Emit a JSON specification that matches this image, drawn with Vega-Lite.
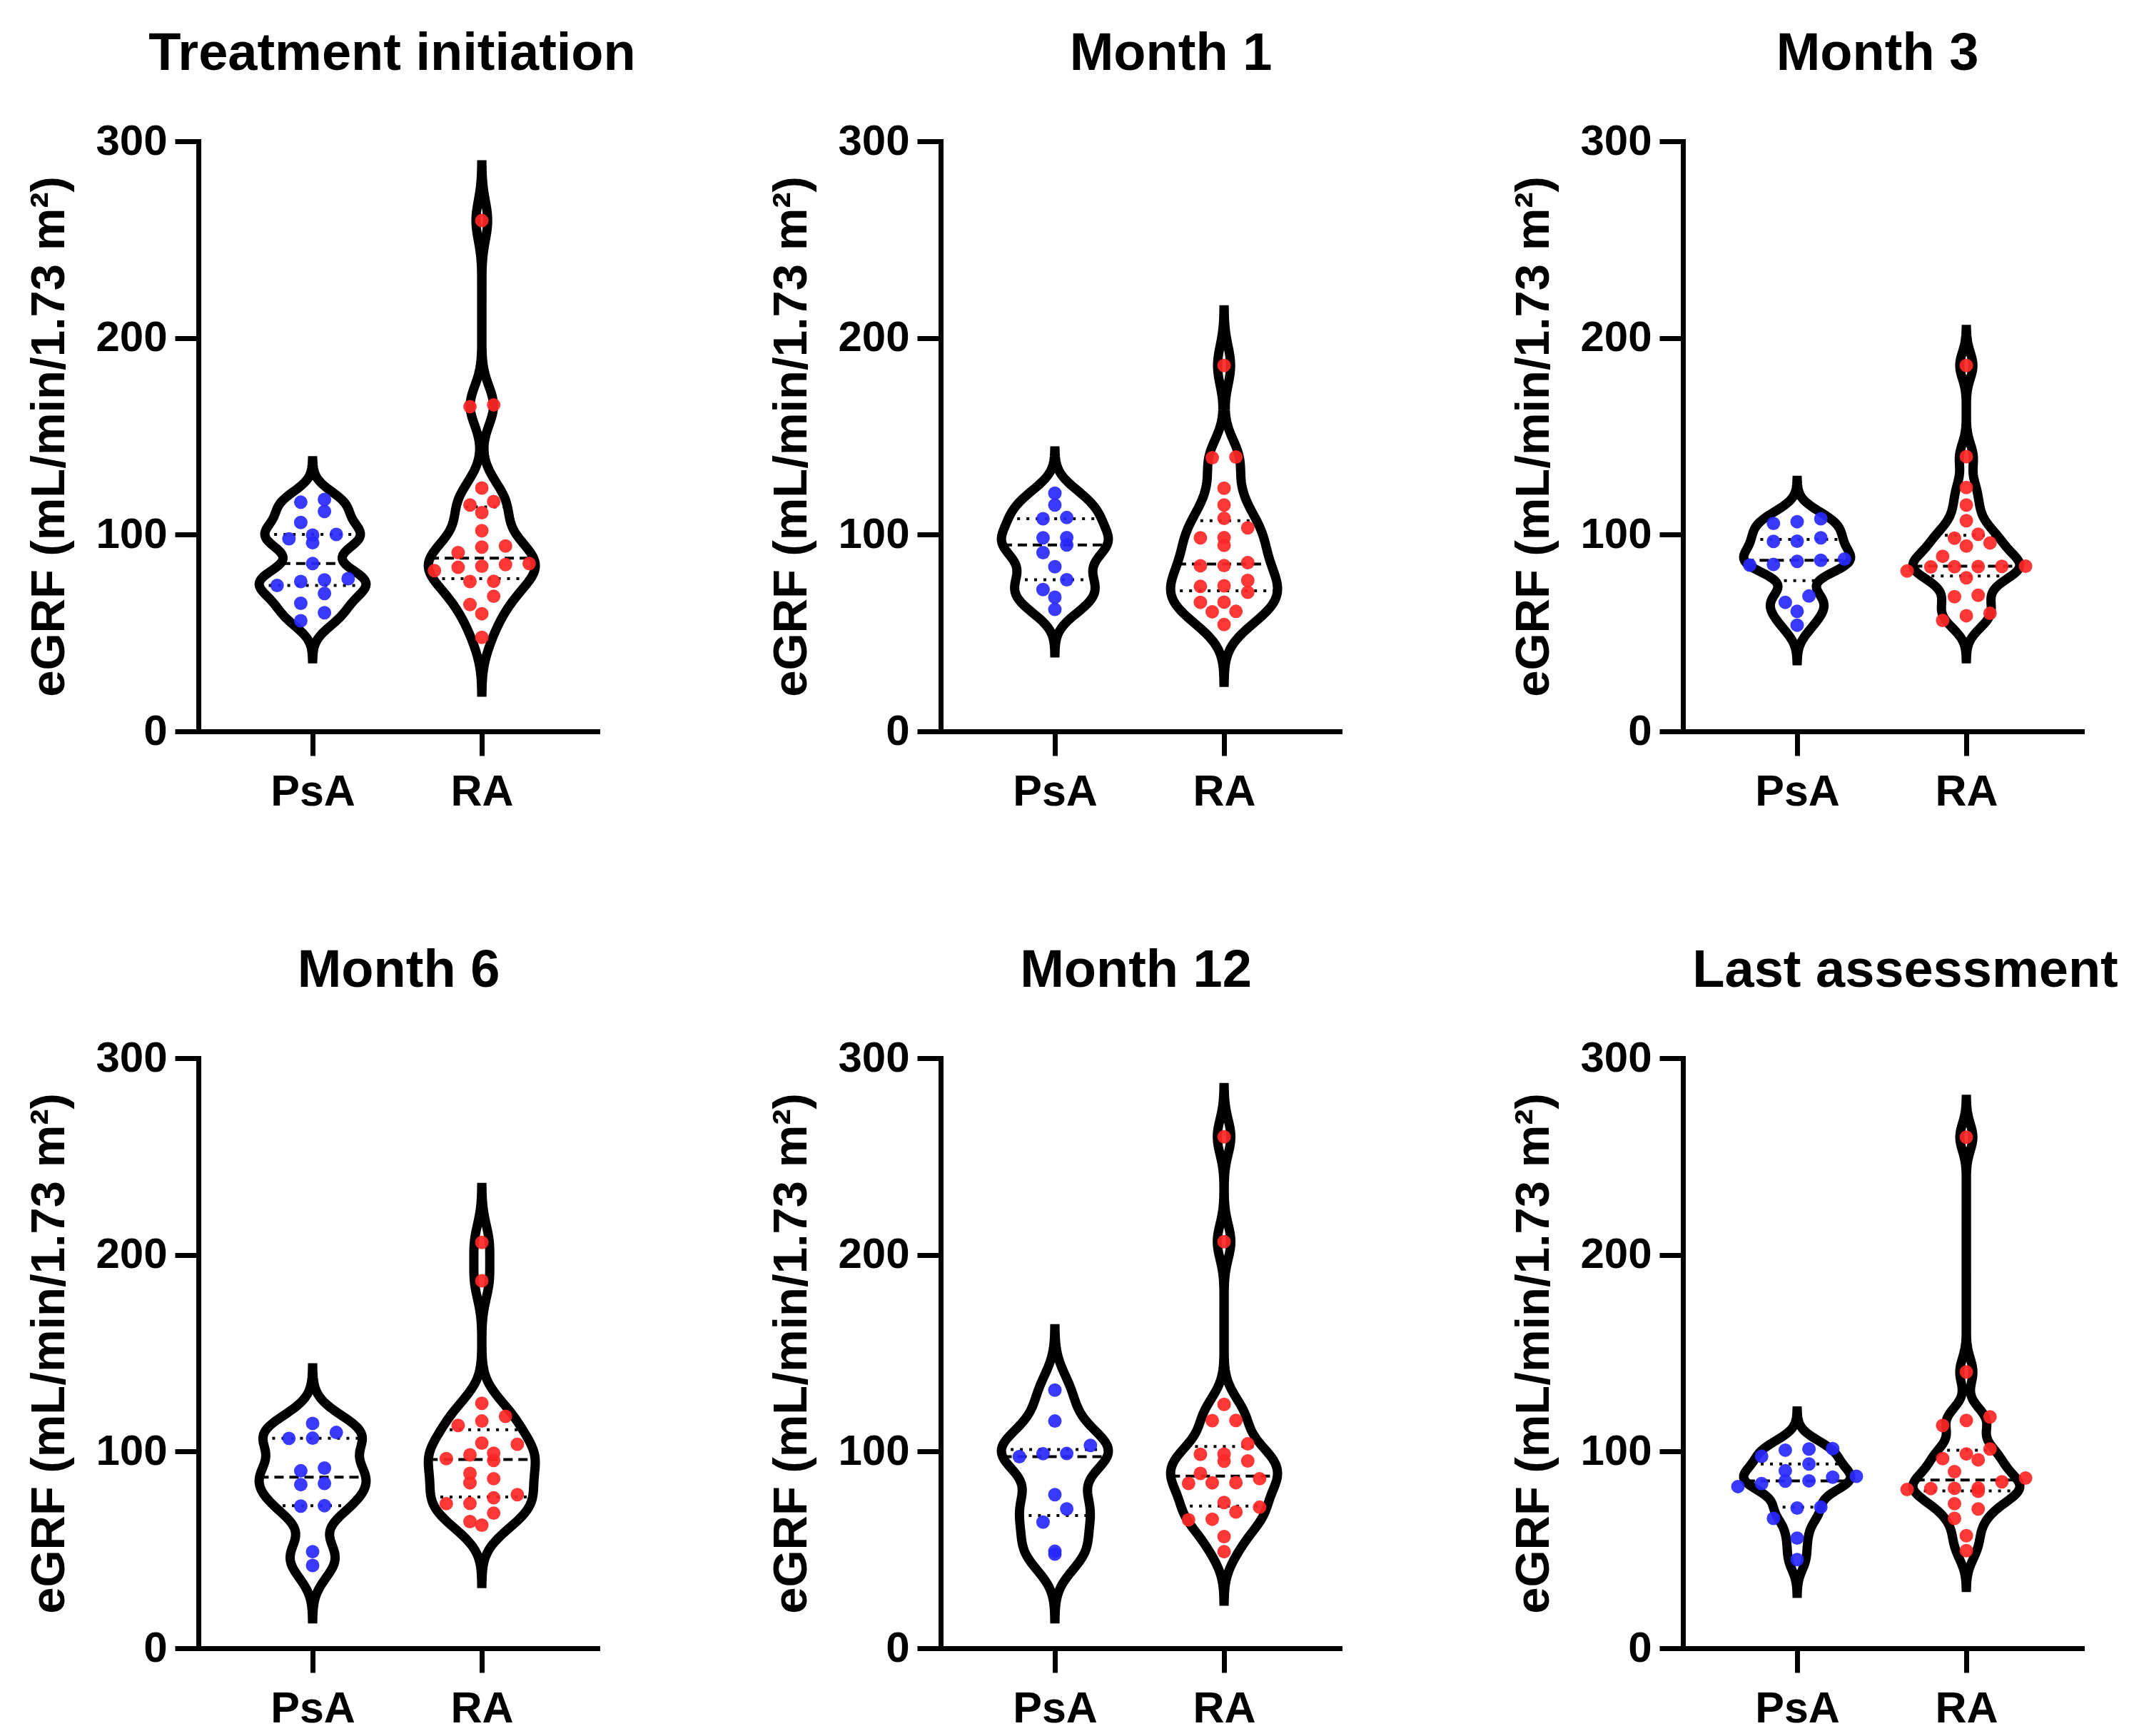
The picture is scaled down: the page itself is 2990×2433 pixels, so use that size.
{
"$schema": "https://vega.github.io/schema/vega-lite/v6.json",
"padding": {"left": 35, "top": 39, "right": 20, "bottom": 10},
"datasets": {"pts": [
{"panel":"Treatment initiation","group":"PsA","eGFR":116.5},{"panel":"Treatment initiation","group":"PsA","eGFR":117.9},{"panel":"Treatment initiation","group":"PsA","eGFR":111.8},{"panel":"Treatment initiation","group":"PsA","eGFR":106.2},{"panel":"Treatment initiation","group":"PsA","eGFR":99.8},{"panel":"Treatment initiation","group":"PsA","eGFR":100.1},{"panel":"Treatment initiation","group":"PsA","eGFR":97.9},{"panel":"Treatment initiation","group":"PsA","eGFR":95.9},{"panel":"Treatment initiation","group":"PsA","eGFR":85.3},{"panel":"Treatment initiation","group":"PsA","eGFR":77.0},{"panel":"Treatment initiation","group":"PsA","eGFR":76.2},{"panel":"Treatment initiation","group":"PsA","eGFR":77.6},{"panel":"Treatment initiation","group":"PsA","eGFR":74.2},{"panel":"Treatment initiation","group":"PsA","eGFR":70.1},{"panel":"Treatment initiation","group":"PsA","eGFR":65.1},{"panel":"Treatment initiation","group":"PsA","eGFR":60.3},{"panel":"Treatment initiation","group":"PsA","eGFR":56.2},
{"panel":"Treatment initiation","group":"RA","eGFR":259.7},{"panel":"Treatment initiation","group":"RA","eGFR":165.1},{"panel":"Treatment initiation","group":"RA","eGFR":166.0},{"panel":"Treatment initiation","group":"RA","eGFR":123.7},{"panel":"Treatment initiation","group":"RA","eGFR":115.1},{"panel":"Treatment initiation","group":"RA","eGFR":116.8},{"panel":"Treatment initiation","group":"RA","eGFR":111.2},{"panel":"Treatment initiation","group":"RA","eGFR":102.0},{"panel":"Treatment initiation","group":"RA","eGFR":94.2},{"panel":"Treatment initiation","group":"RA","eGFR":93.7},{"panel":"Treatment initiation","group":"RA","eGFR":90.9},{"panel":"Treatment initiation","group":"RA","eGFR":85.3},{"panel":"Treatment initiation","group":"RA","eGFR":83.4},{"panel":"Treatment initiation","group":"RA","eGFR":84.0},{"panel":"Treatment initiation","group":"RA","eGFR":84.8},{"panel":"Treatment initiation","group":"RA","eGFR":81.7},{"panel":"Treatment initiation","group":"RA","eGFR":76.2},{"panel":"Treatment initiation","group":"RA","eGFR":76.3},{"panel":"Treatment initiation","group":"RA","eGFR":68.7},{"panel":"Treatment initiation","group":"RA","eGFR":64.5},{"panel":"Treatment initiation","group":"RA","eGFR":59.8},{"panel":"Treatment initiation","group":"RA","eGFR":47.8},
{"panel":"Month 1","group":"PsA","eGFR":121.1},{"panel":"Month 1","group":"PsA","eGFR":115.1},{"panel":"Month 1","group":"PsA","eGFR":108.7},{"panel":"Month 1","group":"PsA","eGFR":108.1},{"panel":"Month 1","group":"PsA","eGFR":98.4},{"panel":"Month 1","group":"PsA","eGFR":98.5},{"panel":"Month 1","group":"PsA","eGFR":94.8},{"panel":"Month 1","group":"PsA","eGFR":90.9},{"panel":"Month 1","group":"PsA","eGFR":83.7},{"panel":"Month 1","group":"PsA","eGFR":77.1},{"panel":"Month 1","group":"PsA","eGFR":72.1},{"panel":"Month 1","group":"PsA","eGFR":68.2},{"panel":"Month 1","group":"PsA","eGFR":62.0},
{"panel":"Month 1","group":"RA","eGFR":186.0},{"panel":"Month 1","group":"RA","eGFR":139.1},{"panel":"Month 1","group":"RA","eGFR":139.5},{"panel":"Month 1","group":"RA","eGFR":123.6},{"panel":"Month 1","group":"RA","eGFR":115.1},{"panel":"Month 1","group":"RA","eGFR":108.3},{"panel":"Month 1","group":"RA","eGFR":103.5},{"panel":"Month 1","group":"RA","eGFR":98.4},{"panel":"Month 1","group":"RA","eGFR":98.5},{"panel":"Month 1","group":"RA","eGFR":94.6},{"panel":"Month 1","group":"RA","eGFR":85.8},{"panel":"Month 1","group":"RA","eGFR":84.2},{"panel":"Month 1","group":"RA","eGFR":84.3},{"panel":"Month 1","group":"RA","eGFR":76.7},{"panel":"Month 1","group":"RA","eGFR":74.0},{"panel":"Month 1","group":"RA","eGFR":73.7},{"panel":"Month 1","group":"RA","eGFR":70.7},{"panel":"Month 1","group":"RA","eGFR":65.6},{"panel":"Month 1","group":"RA","eGFR":65.7},{"panel":"Month 1","group":"RA","eGFR":61.0},{"panel":"Month 1","group":"RA","eGFR":60.8},{"panel":"Month 1","group":"RA","eGFR":54.3},
{"panel":"Month 3","group":"PsA","eGFR":108.1},{"panel":"Month 3","group":"PsA","eGFR":105.7},{"panel":"Month 3","group":"PsA","eGFR":106.6},{"panel":"Month 3","group":"PsA","eGFR":96.6},{"panel":"Month 3","group":"PsA","eGFR":96.7},{"panel":"Month 3","group":"PsA","eGFR":98.4},{"panel":"Month 3","group":"PsA","eGFR":86.4},{"panel":"Month 3","group":"PsA","eGFR":84.5},{"panel":"Month 3","group":"PsA","eGFR":87.0},{"panel":"Month 3","group":"PsA","eGFR":87.6},{"panel":"Month 3","group":"PsA","eGFR":84.9},{"panel":"Month 3","group":"PsA","eGFR":68.8},{"panel":"Month 3","group":"PsA","eGFR":65.6},{"panel":"Month 3","group":"PsA","eGFR":61.0},{"panel":"Month 3","group":"PsA","eGFR":54.0},
{"panel":"Month 3","group":"RA","eGFR":186.0},{"panel":"Month 3","group":"RA","eGFR":139.7},{"panel":"Month 3","group":"RA","eGFR":124.0},{"panel":"Month 3","group":"RA","eGFR":115.1},{"panel":"Month 3","group":"RA","eGFR":107.1},{"panel":"Month 3","group":"RA","eGFR":100.2},{"panel":"Month 3","group":"RA","eGFR":98.2},{"panel":"Month 3","group":"RA","eGFR":95.8},{"panel":"Month 3","group":"RA","eGFR":94.2},{"panel":"Month 3","group":"RA","eGFR":89.0},{"panel":"Month 3","group":"RA","eGFR":83.7},{"panel":"Month 3","group":"RA","eGFR":81.5},{"panel":"Month 3","group":"RA","eGFR":83.9},{"panel":"Month 3","group":"RA","eGFR":84.0},{"panel":"Month 3","group":"RA","eGFR":83.8},{"panel":"Month 3","group":"RA","eGFR":83.6},{"panel":"Month 3","group":"RA","eGFR":78.1},{"panel":"Month 3","group":"RA","eGFR":69.2},{"panel":"Month 3","group":"RA","eGFR":68.5},{"panel":"Month 3","group":"RA","eGFR":60.0},{"panel":"Month 3","group":"RA","eGFR":56.4},{"panel":"Month 3","group":"RA","eGFR":58.8},
{"panel":"Month 6","group":"PsA","eGFR":114.3},{"panel":"Month 6","group":"PsA","eGFR":109.7},{"panel":"Month 6","group":"PsA","eGFR":106.7},{"panel":"Month 6","group":"PsA","eGFR":106.8},{"panel":"Month 6","group":"PsA","eGFR":91.6},{"panel":"Month 6","group":"PsA","eGFR":90.2},{"panel":"Month 6","group":"PsA","eGFR":83.2},{"panel":"Month 6","group":"PsA","eGFR":83.8},{"panel":"Month 6","group":"PsA","eGFR":72.3},{"panel":"Month 6","group":"PsA","eGFR":72.5},{"panel":"Month 6","group":"PsA","eGFR":49.1},{"panel":"Month 6","group":"PsA","eGFR":42.1},
{"panel":"Month 6","group":"RA","eGFR":206.3},{"panel":"Month 6","group":"RA","eGFR":186.8},{"panel":"Month 6","group":"RA","eGFR":124.5},{"panel":"Month 6","group":"RA","eGFR":117.9},{"panel":"Month 6","group":"RA","eGFR":113.3},{"panel":"Month 6","group":"RA","eGFR":115.5},{"panel":"Month 6","group":"RA","eGFR":104.3},{"panel":"Month 6","group":"RA","eGFR":103.7},{"panel":"Month 6","group":"RA","eGFR":98.3},{"panel":"Month 6","group":"RA","eGFR":99.1},{"panel":"Month 6","group":"RA","eGFR":95.5},{"panel":"Month 6","group":"RA","eGFR":96.4},{"panel":"Month 6","group":"RA","eGFR":88.9},{"panel":"Month 6","group":"RA","eGFR":86.2},{"panel":"Month 6","group":"RA","eGFR":84.1},{"panel":"Month 6","group":"RA","eGFR":76.5},{"panel":"Month 6","group":"RA","eGFR":78.1},{"panel":"Month 6","group":"RA","eGFR":73.5},{"panel":"Month 6","group":"RA","eGFR":73.6},{"panel":"Month 6","group":"RA","eGFR":68.7},{"panel":"Month 6","group":"RA","eGFR":62.6},{"panel":"Month 6","group":"RA","eGFR":64.4},
{"panel":"Month 12","group":"PsA","eGFR":131.2},{"panel":"Month 12","group":"PsA","eGFR":115.5},{"panel":"Month 12","group":"PsA","eGFR":103.1},{"panel":"Month 12","group":"PsA","eGFR":98.9},{"panel":"Month 12","group":"PsA","eGFR":99.0},{"panel":"Month 12","group":"PsA","eGFR":97.4},{"panel":"Month 12","group":"PsA","eGFR":78.1},{"panel":"Month 12","group":"PsA","eGFR":70.8},{"panel":"Month 12","group":"PsA","eGFR":64.1},{"panel":"Month 12","group":"PsA","eGFR":47.9},{"panel":"Month 12","group":"PsA","eGFR":49.3},
{"panel":"Month 12","group":"RA","eGFR":260.0},{"panel":"Month 12","group":"RA","eGFR":206.7},{"panel":"Month 12","group":"RA","eGFR":124.0},{"panel":"Month 12","group":"RA","eGFR":115.8},{"panel":"Month 12","group":"RA","eGFR":115.7},{"panel":"Month 12","group":"RA","eGFR":103.9},{"panel":"Month 12","group":"RA","eGFR":98.6},{"panel":"Month 12","group":"RA","eGFR":98.7},{"panel":"Month 12","group":"RA","eGFR":95.2},{"panel":"Month 12","group":"RA","eGFR":95.1},{"panel":"Month 12","group":"RA","eGFR":86.2},{"panel":"Month 12","group":"RA","eGFR":88.9},{"panel":"Month 12","group":"RA","eGFR":83.8},{"panel":"Month 12","group":"RA","eGFR":84.1},{"panel":"Month 12","group":"RA","eGFR":84.2},{"panel":"Month 12","group":"RA","eGFR":74.1},{"panel":"Month 12","group":"RA","eGFR":71.7},{"panel":"Month 12","group":"RA","eGFR":69.3},{"panel":"Month 12","group":"RA","eGFR":65.6},{"panel":"Month 12","group":"RA","eGFR":65.3},{"panel":"Month 12","group":"RA","eGFR":56.8},{"panel":"Month 12","group":"RA","eGFR":49.1},
{"panel":"Last assessment","group":"PsA","eGFR":101.3},{"panel":"Last assessment","group":"PsA","eGFR":100.7},{"panel":"Last assessment","group":"PsA","eGFR":101.5},{"panel":"Last assessment","group":"PsA","eGFR":97.6},{"panel":"Last assessment","group":"PsA","eGFR":93.7},{"panel":"Last assessment","group":"PsA","eGFR":90.2},{"panel":"Last assessment","group":"PsA","eGFR":87.4},{"panel":"Last assessment","group":"PsA","eGFR":87.0},{"panel":"Last assessment","group":"PsA","eGFR":85.0},{"panel":"Last assessment","group":"PsA","eGFR":83.7},{"panel":"Last assessment","group":"PsA","eGFR":85.1},{"panel":"Last assessment","group":"PsA","eGFR":82.2},{"panel":"Last assessment","group":"PsA","eGFR":71.3},{"panel":"Last assessment","group":"PsA","eGFR":71.7},{"panel":"Last assessment","group":"PsA","eGFR":66.0},{"panel":"Last assessment","group":"PsA","eGFR":56.0},{"panel":"Last assessment","group":"PsA","eGFR":45.1},
{"panel":"Last assessment","group":"RA","eGFR":259.8},{"panel":"Last assessment","group":"RA","eGFR":140.5},{"panel":"Last assessment","group":"RA","eGFR":117.6},{"panel":"Last assessment","group":"RA","eGFR":115.8},{"panel":"Last assessment","group":"RA","eGFR":113.3},{"panel":"Last assessment","group":"RA","eGFR":98.8},{"panel":"Last assessment","group":"RA","eGFR":101.3},{"panel":"Last assessment","group":"RA","eGFR":96.4},{"panel":"Last assessment","group":"RA","eGFR":95.8},{"panel":"Last assessment","group":"RA","eGFR":89.8},{"panel":"Last assessment","group":"RA","eGFR":84.6},{"panel":"Last assessment","group":"RA","eGFR":86.5},{"panel":"Last assessment","group":"RA","eGFR":80.7},{"panel":"Last assessment","group":"RA","eGFR":81.3},{"panel":"Last assessment","group":"RA","eGFR":81.4},{"panel":"Last assessment","group":"RA","eGFR":81.2},{"panel":"Last assessment","group":"RA","eGFR":79.8},{"panel":"Last assessment","group":"RA","eGFR":73.5},{"panel":"Last assessment","group":"RA","eGFR":70.8},{"panel":"Last assessment","group":"RA","eGFR":66.0},{"panel":"Last assessment","group":"RA","eGFR":57.2},{"panel":"Last assessment","group":"RA","eGFR":49.6}
]},
"data": {"name": "pts"},
"columns": 3,
"spacing": {"row": 458, "column": 481},
"bounds": "flush",
"concat": [
{"title": {"text": "Treatment initiation", "dx": -8}, "width": 559, "height": 827, "layer": [
 {"transform": [{"filter": "datum.panel === 'Treatment initiation' && datum.group === 'PsA'"},{"joinaggregate": [{"op":"q1","field":"eGFR","as":"q1"},{"op":"median","field":"eGFR","as":"med"},{"op":"q3","field":"eGFR","as":"q3"}]},{"density":"eGFR","groupby":["q1","med","q3"],"bandwidth":6.5,"extent":[0,300],"steps":301},{"joinaggregate":[{"op":"max","field":"density","as":"dmax"}]},{"calculate":"0.316 * datum.density / datum.dmax","as":"half"},{"filter":"datum.half > 0.0006"},{"calculate":"1 - datum.half","as":"left"},{"calculate":"1 + datum.half","as":"right"}],
  "layer": [
   {"mark": {"type":"area","orient":"horizontal","fill":"white","stroke":"black","strokeWidth":13,"strokeJoin":"miter","strokeMiterLimit":4},"encoding":{"y":{"field":"value","type":"quantitative","scale":{"domain":[0,300],"nice":false},"axis":{"values":[0,100,200,300],"title":"eGRF (mL/min/1.73 m²)"}},"x":{"field":"left","type":"quantitative","scale":{"domain":[0.325,2.683],"nice":false,"zero":false},"axis":{"values":[1,2],"labelExpr":"datum.value === 1 ? 'PsA' : 'RA'","title":null}},"x2":{"field":"right"}}},
   {"transform":[{"filter":"abs(datum.value - datum.med) <= 0.5"}],"mark":{"type":"rule","stroke":"black","strokeWidth":4,"strokeDash":[13,8]},"encoding":{"y":{"field":"med","type":"quantitative"},"x":{"field":"left","type":"quantitative"},"x2":{"field":"right"}}},
   {"transform":[{"filter":"abs(datum.value - datum.q1) <= 0.5"}],"mark":{"type":"rule","stroke":"black","strokeWidth":4,"strokeDash":[4,9]},"encoding":{"y":{"field":"q1","type":"quantitative"},"x":{"field":"left","type":"quantitative"},"x2":{"field":"right"}}},
   {"transform":[{"filter":"abs(datum.value - datum.q3) <= 0.5"}],"mark":{"type":"rule","stroke":"black","strokeWidth":4,"strokeDash":[4,9]},"encoding":{"y":{"field":"q3","type":"quantitative"},"x":{"field":"left","type":"quantitative"},"x2":{"field":"right"}}}
  ]},
 {"transform": [{"filter": "datum.panel === 'Treatment initiation' && datum.group === 'RA'"},{"joinaggregate": [{"op":"q1","field":"eGFR","as":"q1"},{"op":"median","field":"eGFR","as":"med"},{"op":"q3","field":"eGFR","as":"q3"}]},{"density":"eGFR","groupby":["q1","med","q3"],"bandwidth":10,"extent":[0,300],"steps":301},{"joinaggregate":[{"op":"max","field":"density","as":"dmax"}]},{"calculate":"0.316 * datum.density / datum.dmax","as":"half"},{"filter":"datum.half > 0.0006"},{"calculate":"2 - datum.half","as":"left"},{"calculate":"2 + datum.half","as":"right"}],
  "layer": [
   {"mark": {"type":"area","orient":"horizontal","fill":"white","stroke":"black","strokeWidth":13,"strokeJoin":"miter","strokeMiterLimit":4},"encoding":{"y":{"field":"value","type":"quantitative"},"x":{"field":"left","type":"quantitative"},"x2":{"field":"right"}}},
   {"transform":[{"filter":"abs(datum.value - datum.med) <= 0.5"}],"mark":{"type":"rule","stroke":"black","strokeWidth":4,"strokeDash":[13,8]},"encoding":{"y":{"field":"med","type":"quantitative"},"x":{"field":"left","type":"quantitative"},"x2":{"field":"right"}}},
   {"transform":[{"filter":"abs(datum.value - datum.q1) <= 0.5"}],"mark":{"type":"rule","stroke":"black","strokeWidth":4,"strokeDash":[4,9]},"encoding":{"y":{"field":"q1","type":"quantitative"},"x":{"field":"left","type":"quantitative"},"x2":{"field":"right"}}},
   {"transform":[{"filter":"abs(datum.value - datum.q3) <= 0.5"}],"mark":{"type":"rule","stroke":"black","strokeWidth":4,"strokeDash":[4,9]},"encoding":{"y":{"field":"q3","type":"quantitative"},"x":{"field":"left","type":"quantitative"},"x2":{"field":"right"}}}
  ]},
 {"transform": [{"filter":"datum.panel === 'Treatment initiation'"},{"bin":{"step":8},"field":"eGFR","as":"vb"},{"window":[{"op":"row_number","as":"rn"}],"groupby":["group","vb"],"sort":[{"field":"eGFR","order":"ascending"}]},{"joinaggregate":[{"op":"count","as":"cnt"}],"groupby":["group","vb"]},{"calculate":"(datum.group === 'PsA' ? 1 : 2) + (datum.rn - (datum.cnt + 1) / 2) * 0.14","as":"xpos"}],
  "mark": {"type":"circle","size":360,"opacity":0.92},
  "encoding": {"x":{"field":"xpos","type":"quantitative"},"y":{"field":"eGFR","type":"quantitative"},"color":{"field":"group","type":"nominal","scale":{"domain":["PsA","RA"],"range":["#2828ff","#ff2626"]},"legend":null}}}
]},
{"title": {"text": "Month 1", "dx": 43}, "width": 559, "height": 827, "layer": [
 {"transform": [{"filter": "datum.panel === 'Month 1' && datum.group === 'PsA'"},{"joinaggregate": [{"op":"q1","field":"eGFR","as":"q1"},{"op":"median","field":"eGFR","as":"med"},{"op":"q3","field":"eGFR","as":"q3"}]},{"density":"eGFR","groupby":["q1","med","q3"],"bandwidth":7.2,"extent":[0,300],"steps":301},{"joinaggregate":[{"op":"max","field":"density","as":"dmax"}]},{"calculate":"0.316 * datum.density / datum.dmax","as":"half"},{"filter":"datum.half > 0.0006"},{"calculate":"1 - datum.half","as":"left"},{"calculate":"1 + datum.half","as":"right"}],
  "layer": [
   {"mark": {"type":"area","orient":"horizontal","fill":"white","stroke":"black","strokeWidth":13,"strokeJoin":"miter","strokeMiterLimit":4},"encoding":{"y":{"field":"value","type":"quantitative","scale":{"domain":[0,300],"nice":false},"axis":{"values":[0,100,200,300],"title":"eGRF (mL/min/1.73 m²)"}},"x":{"field":"left","type":"quantitative","scale":{"domain":[0.325,2.683],"nice":false,"zero":false},"axis":{"values":[1,2],"labelExpr":"datum.value === 1 ? 'PsA' : 'RA'","title":null}},"x2":{"field":"right"}}},
   {"transform":[{"filter":"abs(datum.value - datum.med) <= 0.5"}],"mark":{"type":"rule","stroke":"black","strokeWidth":4,"strokeDash":[13,8]},"encoding":{"y":{"field":"med","type":"quantitative"},"x":{"field":"left","type":"quantitative"},"x2":{"field":"right"}}},
   {"transform":[{"filter":"abs(datum.value - datum.q1) <= 0.5"}],"mark":{"type":"rule","stroke":"black","strokeWidth":4,"strokeDash":[4,9]},"encoding":{"y":{"field":"q1","type":"quantitative"},"x":{"field":"left","type":"quantitative"},"x2":{"field":"right"}}},
   {"transform":[{"filter":"abs(datum.value - datum.q3) <= 0.5"}],"mark":{"type":"rule","stroke":"black","strokeWidth":4,"strokeDash":[4,9]},"encoding":{"y":{"field":"q3","type":"quantitative"},"x":{"field":"left","type":"quantitative"},"x2":{"field":"right"}}}
  ]},
 {"transform": [{"filter": "datum.panel === 'Month 1' && datum.group === 'RA'"},{"joinaggregate": [{"op":"q1","field":"eGFR","as":"q1"},{"op":"median","field":"eGFR","as":"med"},{"op":"q3","field":"eGFR","as":"q3"}]},{"density":"eGFR","groupby":["q1","med","q3"],"bandwidth":10,"extent":[0,300],"steps":301},{"joinaggregate":[{"op":"max","field":"density","as":"dmax"}]},{"calculate":"0.316 * datum.density / datum.dmax","as":"half"},{"filter":"datum.half > 0.0006"},{"calculate":"2 - datum.half","as":"left"},{"calculate":"2 + datum.half","as":"right"}],
  "layer": [
   {"mark": {"type":"area","orient":"horizontal","fill":"white","stroke":"black","strokeWidth":13,"strokeJoin":"miter","strokeMiterLimit":4},"encoding":{"y":{"field":"value","type":"quantitative"},"x":{"field":"left","type":"quantitative"},"x2":{"field":"right"}}},
   {"transform":[{"filter":"abs(datum.value - datum.med) <= 0.5"}],"mark":{"type":"rule","stroke":"black","strokeWidth":4,"strokeDash":[13,8]},"encoding":{"y":{"field":"med","type":"quantitative"},"x":{"field":"left","type":"quantitative"},"x2":{"field":"right"}}},
   {"transform":[{"filter":"abs(datum.value - datum.q1) <= 0.5"}],"mark":{"type":"rule","stroke":"black","strokeWidth":4,"strokeDash":[4,9]},"encoding":{"y":{"field":"q1","type":"quantitative"},"x":{"field":"left","type":"quantitative"},"x2":{"field":"right"}}},
   {"transform":[{"filter":"abs(datum.value - datum.q3) <= 0.5"}],"mark":{"type":"rule","stroke":"black","strokeWidth":4,"strokeDash":[4,9]},"encoding":{"y":{"field":"q3","type":"quantitative"},"x":{"field":"left","type":"quantitative"},"x2":{"field":"right"}}}
  ]},
 {"transform": [{"filter":"datum.panel === 'Month 1'"},{"bin":{"step":8},"field":"eGFR","as":"vb"},{"window":[{"op":"row_number","as":"rn"}],"groupby":["group","vb"],"sort":[{"field":"eGFR","order":"ascending"}]},{"joinaggregate":[{"op":"count","as":"cnt"}],"groupby":["group","vb"]},{"calculate":"(datum.group === 'PsA' ? 1 : 2) + (datum.rn - (datum.cnt + 1) / 2) * 0.14","as":"xpos"}],
  "mark": {"type":"circle","size":360,"opacity":0.92},
  "encoding": {"x":{"field":"xpos","type":"quantitative"},"y":{"field":"eGFR","type":"quantitative"},"color":{"field":"group","type":"nominal","scale":{"domain":["PsA","RA"],"range":["#2828ff","#ff2626"]},"legend":null}}}
]},
{"title": {"text": "Month 3", "dx": -7}, "width": 559, "height": 827, "layer": [
 {"transform": [{"filter": "datum.panel === 'Month 3' && datum.group === 'PsA'"},{"joinaggregate": [{"op":"q1","field":"eGFR","as":"q1"},{"op":"median","field":"eGFR","as":"med"},{"op":"q3","field":"eGFR","as":"q3"}]},{"density":"eGFR","groupby":["q1","med","q3"],"bandwidth":6.3,"extent":[0,300],"steps":301},{"joinaggregate":[{"op":"max","field":"density","as":"dmax"}]},{"calculate":"0.316 * datum.density / datum.dmax","as":"half"},{"filter":"datum.half > 0.0006"},{"calculate":"1 - datum.half","as":"left"},{"calculate":"1 + datum.half","as":"right"}],
  "layer": [
   {"mark": {"type":"area","orient":"horizontal","fill":"white","stroke":"black","strokeWidth":13,"strokeJoin":"miter","strokeMiterLimit":4},"encoding":{"y":{"field":"value","type":"quantitative","scale":{"domain":[0,300],"nice":false},"axis":{"values":[0,100,200,300],"title":"eGRF (mL/min/1.73 m²)"}},"x":{"field":"left","type":"quantitative","scale":{"domain":[0.325,2.683],"nice":false,"zero":false},"axis":{"values":[1,2],"labelExpr":"datum.value === 1 ? 'PsA' : 'RA'","title":null}},"x2":{"field":"right"}}},
   {"transform":[{"filter":"abs(datum.value - datum.med) <= 0.5"}],"mark":{"type":"rule","stroke":"black","strokeWidth":4,"strokeDash":[13,8]},"encoding":{"y":{"field":"med","type":"quantitative"},"x":{"field":"left","type":"quantitative"},"x2":{"field":"right"}}},
   {"transform":[{"filter":"abs(datum.value - datum.q1) <= 0.5"}],"mark":{"type":"rule","stroke":"black","strokeWidth":4,"strokeDash":[4,9]},"encoding":{"y":{"field":"q1","type":"quantitative"},"x":{"field":"left","type":"quantitative"},"x2":{"field":"right"}}},
   {"transform":[{"filter":"abs(datum.value - datum.q3) <= 0.5"}],"mark":{"type":"rule","stroke":"black","strokeWidth":4,"strokeDash":[4,9]},"encoding":{"y":{"field":"q3","type":"quantitative"},"x":{"field":"left","type":"quantitative"},"x2":{"field":"right"}}}
  ]},
 {"transform": [{"filter": "datum.panel === 'Month 3' && datum.group === 'RA'"},{"joinaggregate": [{"op":"q1","field":"eGFR","as":"q1"},{"op":"median","field":"eGFR","as":"med"},{"op":"q3","field":"eGFR","as":"q3"}]},{"density":"eGFR","groupby":["q1","med","q3"],"bandwidth":6.6,"extent":[0,300],"steps":301},{"joinaggregate":[{"op":"max","field":"density","as":"dmax"}]},{"calculate":"0.316 * datum.density / datum.dmax","as":"half"},{"filter":"datum.half > 0.0006"},{"calculate":"2 - datum.half","as":"left"},{"calculate":"2 + datum.half","as":"right"}],
  "layer": [
   {"mark": {"type":"area","orient":"horizontal","fill":"white","stroke":"black","strokeWidth":13,"strokeJoin":"miter","strokeMiterLimit":4},"encoding":{"y":{"field":"value","type":"quantitative"},"x":{"field":"left","type":"quantitative"},"x2":{"field":"right"}}},
   {"transform":[{"filter":"abs(datum.value - datum.med) <= 0.5"}],"mark":{"type":"rule","stroke":"black","strokeWidth":4,"strokeDash":[13,8]},"encoding":{"y":{"field":"med","type":"quantitative"},"x":{"field":"left","type":"quantitative"},"x2":{"field":"right"}}},
   {"transform":[{"filter":"abs(datum.value - datum.q1) <= 0.5"}],"mark":{"type":"rule","stroke":"black","strokeWidth":4,"strokeDash":[4,9]},"encoding":{"y":{"field":"q1","type":"quantitative"},"x":{"field":"left","type":"quantitative"},"x2":{"field":"right"}}},
   {"transform":[{"filter":"abs(datum.value - datum.q3) <= 0.5"}],"mark":{"type":"rule","stroke":"black","strokeWidth":4,"strokeDash":[4,9]},"encoding":{"y":{"field":"q3","type":"quantitative"},"x":{"field":"left","type":"quantitative"},"x2":{"field":"right"}}}
  ]},
 {"transform": [{"filter":"datum.panel === 'Month 3'"},{"bin":{"step":8},"field":"eGFR","as":"vb"},{"window":[{"op":"row_number","as":"rn"}],"groupby":["group","vb"],"sort":[{"field":"eGFR","order":"ascending"}]},{"joinaggregate":[{"op":"count","as":"cnt"}],"groupby":["group","vb"]},{"calculate":"(datum.group === 'PsA' ? 1 : 2) + (datum.rn - (datum.cnt + 1) / 2) * 0.14","as":"xpos"}],
  "mark": {"type":"circle","size":360,"opacity":0.92},
  "encoding": {"x":{"field":"xpos","type":"quantitative"},"y":{"field":"eGFR","type":"quantitative"},"color":{"field":"group","type":"nominal","scale":{"domain":["PsA","RA"],"range":["#2828ff","#ff2626"]},"legend":null}}}
]},
{"title": {"text": "Month 6", "dx": 1}, "width": 559, "height": 827, "layer": [
 {"transform": [{"filter": "datum.panel === 'Month 6' && datum.group === 'PsA'"},{"joinaggregate": [{"op":"q1","field":"eGFR","as":"q1"},{"op":"median","field":"eGFR","as":"med"},{"op":"q3","field":"eGFR","as":"q3"}]},{"density":"eGFR","groupby":["q1","med","q3"],"bandwidth":9,"extent":[0,300],"steps":301},{"joinaggregate":[{"op":"max","field":"density","as":"dmax"}]},{"calculate":"0.316 * datum.density / datum.dmax","as":"half"},{"filter":"datum.half > 0.0006"},{"calculate":"1 - datum.half","as":"left"},{"calculate":"1 + datum.half","as":"right"}],
  "layer": [
   {"mark": {"type":"area","orient":"horizontal","fill":"white","stroke":"black","strokeWidth":13,"strokeJoin":"miter","strokeMiterLimit":4},"encoding":{"y":{"field":"value","type":"quantitative","scale":{"domain":[0,300],"nice":false},"axis":{"values":[0,100,200,300],"title":"eGRF (mL/min/1.73 m²)"}},"x":{"field":"left","type":"quantitative","scale":{"domain":[0.325,2.683],"nice":false,"zero":false},"axis":{"values":[1,2],"labelExpr":"datum.value === 1 ? 'PsA' : 'RA'","title":null}},"x2":{"field":"right"}}},
   {"transform":[{"filter":"abs(datum.value - datum.med) <= 0.5"}],"mark":{"type":"rule","stroke":"black","strokeWidth":4,"strokeDash":[13,8]},"encoding":{"y":{"field":"med","type":"quantitative"},"x":{"field":"left","type":"quantitative"},"x2":{"field":"right"}}},
   {"transform":[{"filter":"abs(datum.value - datum.q1) <= 0.5"}],"mark":{"type":"rule","stroke":"black","strokeWidth":4,"strokeDash":[4,9]},"encoding":{"y":{"field":"q1","type":"quantitative"},"x":{"field":"left","type":"quantitative"},"x2":{"field":"right"}}},
   {"transform":[{"filter":"abs(datum.value - datum.q3) <= 0.5"}],"mark":{"type":"rule","stroke":"black","strokeWidth":4,"strokeDash":[4,9]},"encoding":{"y":{"field":"q3","type":"quantitative"},"x":{"field":"left","type":"quantitative"},"x2":{"field":"right"}}}
  ]},
 {"transform": [{"filter": "datum.panel === 'Month 6' && datum.group === 'RA'"},{"joinaggregate": [{"op":"q1","field":"eGFR","as":"q1"},{"op":"median","field":"eGFR","as":"med"},{"op":"q3","field":"eGFR","as":"q3"}]},{"density":"eGFR","groupby":["q1","med","q3"],"bandwidth":9.7,"extent":[0,300],"steps":301},{"joinaggregate":[{"op":"max","field":"density","as":"dmax"}]},{"calculate":"0.316 * datum.density / datum.dmax","as":"half"},{"filter":"datum.half > 0.0006"},{"calculate":"2 - datum.half","as":"left"},{"calculate":"2 + datum.half","as":"right"}],
  "layer": [
   {"mark": {"type":"area","orient":"horizontal","fill":"white","stroke":"black","strokeWidth":13,"strokeJoin":"miter","strokeMiterLimit":4},"encoding":{"y":{"field":"value","type":"quantitative"},"x":{"field":"left","type":"quantitative"},"x2":{"field":"right"}}},
   {"transform":[{"filter":"abs(datum.value - datum.med) <= 0.5"}],"mark":{"type":"rule","stroke":"black","strokeWidth":4,"strokeDash":[13,8]},"encoding":{"y":{"field":"med","type":"quantitative"},"x":{"field":"left","type":"quantitative"},"x2":{"field":"right"}}},
   {"transform":[{"filter":"abs(datum.value - datum.q1) <= 0.5"}],"mark":{"type":"rule","stroke":"black","strokeWidth":4,"strokeDash":[4,9]},"encoding":{"y":{"field":"q1","type":"quantitative"},"x":{"field":"left","type":"quantitative"},"x2":{"field":"right"}}},
   {"transform":[{"filter":"abs(datum.value - datum.q3) <= 0.5"}],"mark":{"type":"rule","stroke":"black","strokeWidth":4,"strokeDash":[4,9]},"encoding":{"y":{"field":"q3","type":"quantitative"},"x":{"field":"left","type":"quantitative"},"x2":{"field":"right"}}}
  ]},
 {"transform": [{"filter":"datum.panel === 'Month 6'"},{"bin":{"step":8},"field":"eGFR","as":"vb"},{"window":[{"op":"row_number","as":"rn"}],"groupby":["group","vb"],"sort":[{"field":"eGFR","order":"ascending"}]},{"joinaggregate":[{"op":"count","as":"cnt"}],"groupby":["group","vb"]},{"calculate":"(datum.group === 'PsA' ? 1 : 2) + (datum.rn - (datum.cnt + 1) / 2) * 0.14","as":"xpos"}],
  "mark": {"type":"circle","size":360,"opacity":0.92},
  "encoding": {"x":{"field":"xpos","type":"quantitative"},"y":{"field":"eGFR","type":"quantitative"},"color":{"field":"group","type":"nominal","scale":{"domain":["PsA","RA"],"range":["#2828ff","#ff2626"]},"legend":null}}}
]},
{"title": {"text": "Month 12", "dx": -6}, "width": 559, "height": 827, "layer": [
 {"transform": [{"filter": "datum.panel === 'Month 12' && datum.group === 'PsA'"},{"joinaggregate": [{"op":"q1","field":"eGFR","as":"q1"},{"op":"median","field":"eGFR","as":"med"},{"op":"q3","field":"eGFR","as":"q3"}]},{"density":"eGFR","groupby":["q1","med","q3"],"bandwidth":10.3,"extent":[0,300],"steps":301},{"joinaggregate":[{"op":"max","field":"density","as":"dmax"}]},{"calculate":"0.316 * datum.density / datum.dmax","as":"half"},{"filter":"datum.half > 0.0006"},{"calculate":"1 - datum.half","as":"left"},{"calculate":"1 + datum.half","as":"right"}],
  "layer": [
   {"mark": {"type":"area","orient":"horizontal","fill":"white","stroke":"black","strokeWidth":13,"strokeJoin":"miter","strokeMiterLimit":4},"encoding":{"y":{"field":"value","type":"quantitative","scale":{"domain":[0,300],"nice":false},"axis":{"values":[0,100,200,300],"title":"eGRF (mL/min/1.73 m²)"}},"x":{"field":"left","type":"quantitative","scale":{"domain":[0.325,2.683],"nice":false,"zero":false},"axis":{"values":[1,2],"labelExpr":"datum.value === 1 ? 'PsA' : 'RA'","title":null}},"x2":{"field":"right"}}},
   {"transform":[{"filter":"abs(datum.value - datum.med) <= 0.5"}],"mark":{"type":"rule","stroke":"black","strokeWidth":4,"strokeDash":[13,8]},"encoding":{"y":{"field":"med","type":"quantitative"},"x":{"field":"left","type":"quantitative"},"x2":{"field":"right"}}},
   {"transform":[{"filter":"abs(datum.value - datum.q1) <= 0.5"}],"mark":{"type":"rule","stroke":"black","strokeWidth":4,"strokeDash":[4,9]},"encoding":{"y":{"field":"q1","type":"quantitative"},"x":{"field":"left","type":"quantitative"},"x2":{"field":"right"}}},
   {"transform":[{"filter":"abs(datum.value - datum.q3) <= 0.5"}],"mark":{"type":"rule","stroke":"black","strokeWidth":4,"strokeDash":[4,9]},"encoding":{"y":{"field":"q3","type":"quantitative"},"x":{"field":"left","type":"quantitative"},"x2":{"field":"right"}}}
  ]},
 {"transform": [{"filter": "datum.panel === 'Month 12' && datum.group === 'RA'"},{"joinaggregate": [{"op":"q1","field":"eGFR","as":"q1"},{"op":"median","field":"eGFR","as":"med"},{"op":"q3","field":"eGFR","as":"q3"}]},{"density":"eGFR","groupby":["q1","med","q3"],"bandwidth":8.8,"extent":[0,300],"steps":301},{"joinaggregate":[{"op":"max","field":"density","as":"dmax"}]},{"calculate":"0.316 * datum.density / datum.dmax","as":"half"},{"filter":"datum.half > 0.0006"},{"calculate":"2 - datum.half","as":"left"},{"calculate":"2 + datum.half","as":"right"}],
  "layer": [
   {"mark": {"type":"area","orient":"horizontal","fill":"white","stroke":"black","strokeWidth":13,"strokeJoin":"miter","strokeMiterLimit":4},"encoding":{"y":{"field":"value","type":"quantitative"},"x":{"field":"left","type":"quantitative"},"x2":{"field":"right"}}},
   {"transform":[{"filter":"abs(datum.value - datum.med) <= 0.5"}],"mark":{"type":"rule","stroke":"black","strokeWidth":4,"strokeDash":[13,8]},"encoding":{"y":{"field":"med","type":"quantitative"},"x":{"field":"left","type":"quantitative"},"x2":{"field":"right"}}},
   {"transform":[{"filter":"abs(datum.value - datum.q1) <= 0.5"}],"mark":{"type":"rule","stroke":"black","strokeWidth":4,"strokeDash":[4,9]},"encoding":{"y":{"field":"q1","type":"quantitative"},"x":{"field":"left","type":"quantitative"},"x2":{"field":"right"}}},
   {"transform":[{"filter":"abs(datum.value - datum.q3) <= 0.5"}],"mark":{"type":"rule","stroke":"black","strokeWidth":4,"strokeDash":[4,9]},"encoding":{"y":{"field":"q3","type":"quantitative"},"x":{"field":"left","type":"quantitative"},"x2":{"field":"right"}}}
  ]},
 {"transform": [{"filter":"datum.panel === 'Month 12'"},{"bin":{"step":8},"field":"eGFR","as":"vb"},{"window":[{"op":"row_number","as":"rn"}],"groupby":["group","vb"],"sort":[{"field":"eGFR","order":"ascending"}]},{"joinaggregate":[{"op":"count","as":"cnt"}],"groupby":["group","vb"]},{"calculate":"(datum.group === 'PsA' ? 1 : 2) + (datum.rn - (datum.cnt + 1) / 2) * 0.14","as":"xpos"}],
  "mark": {"type":"circle","size":360,"opacity":0.92},
  "encoding": {"x":{"field":"xpos","type":"quantitative"},"y":{"field":"eGFR","type":"quantitative"},"color":{"field":"group","type":"nominal","scale":{"domain":["PsA","RA"],"range":["#2828ff","#ff2626"]},"legend":null}}}
]},
{"title": {"text": "Last assessment", "dx": 32}, "width": 559, "height": 827, "layer": [
 {"transform": [{"filter": "datum.panel === 'Last assessment' && datum.group === 'PsA'"},{"joinaggregate": [{"op":"q1","field":"eGFR","as":"q1"},{"op":"median","field":"eGFR","as":"med"},{"op":"q3","field":"eGFR","as":"q3"}]},{"density":"eGFR","groupby":["q1","med","q3"],"bandwidth":6,"extent":[0,300],"steps":301},{"joinaggregate":[{"op":"max","field":"density","as":"dmax"}]},{"calculate":"0.316 * datum.density / datum.dmax","as":"half"},{"filter":"datum.half > 0.0006"},{"calculate":"1 - datum.half","as":"left"},{"calculate":"1 + datum.half","as":"right"}],
  "layer": [
   {"mark": {"type":"area","orient":"horizontal","fill":"white","stroke":"black","strokeWidth":13,"strokeJoin":"miter","strokeMiterLimit":4},"encoding":{"y":{"field":"value","type":"quantitative","scale":{"domain":[0,300],"nice":false},"axis":{"values":[0,100,200,300],"title":"eGRF (mL/min/1.73 m²)"}},"x":{"field":"left","type":"quantitative","scale":{"domain":[0.325,2.683],"nice":false,"zero":false},"axis":{"values":[1,2],"labelExpr":"datum.value === 1 ? 'PsA' : 'RA'","title":null}},"x2":{"field":"right"}}},
   {"transform":[{"filter":"abs(datum.value - datum.med) <= 0.5"}],"mark":{"type":"rule","stroke":"black","strokeWidth":4,"strokeDash":[13,8]},"encoding":{"y":{"field":"med","type":"quantitative"},"x":{"field":"left","type":"quantitative"},"x2":{"field":"right"}}},
   {"transform":[{"filter":"abs(datum.value - datum.q1) <= 0.5"}],"mark":{"type":"rule","stroke":"black","strokeWidth":4,"strokeDash":[4,9]},"encoding":{"y":{"field":"q1","type":"quantitative"},"x":{"field":"left","type":"quantitative"},"x2":{"field":"right"}}},
   {"transform":[{"filter":"abs(datum.value - datum.q3) <= 0.5"}],"mark":{"type":"rule","stroke":"black","strokeWidth":4,"strokeDash":[4,9]},"encoding":{"y":{"field":"q3","type":"quantitative"},"x":{"field":"left","type":"quantitative"},"x2":{"field":"right"}}}
  ]},
 {"transform": [{"filter": "datum.panel === 'Last assessment' && datum.group === 'RA'"},{"joinaggregate": [{"op":"q1","field":"eGFR","as":"q1"},{"op":"median","field":"eGFR","as":"med"},{"op":"q3","field":"eGFR","as":"q3"}]},{"density":"eGFR","groupby":["q1","med","q3"],"bandwidth":6.8,"extent":[0,300],"steps":301},{"joinaggregate":[{"op":"max","field":"density","as":"dmax"}]},{"calculate":"0.316 * datum.density / datum.dmax","as":"half"},{"filter":"datum.half > 0.0006"},{"calculate":"2 - datum.half","as":"left"},{"calculate":"2 + datum.half","as":"right"}],
  "layer": [
   {"mark": {"type":"area","orient":"horizontal","fill":"white","stroke":"black","strokeWidth":13,"strokeJoin":"miter","strokeMiterLimit":4},"encoding":{"y":{"field":"value","type":"quantitative"},"x":{"field":"left","type":"quantitative"},"x2":{"field":"right"}}},
   {"transform":[{"filter":"abs(datum.value - datum.med) <= 0.5"}],"mark":{"type":"rule","stroke":"black","strokeWidth":4,"strokeDash":[13,8]},"encoding":{"y":{"field":"med","type":"quantitative"},"x":{"field":"left","type":"quantitative"},"x2":{"field":"right"}}},
   {"transform":[{"filter":"abs(datum.value - datum.q1) <= 0.5"}],"mark":{"type":"rule","stroke":"black","strokeWidth":4,"strokeDash":[4,9]},"encoding":{"y":{"field":"q1","type":"quantitative"},"x":{"field":"left","type":"quantitative"},"x2":{"field":"right"}}},
   {"transform":[{"filter":"abs(datum.value - datum.q3) <= 0.5"}],"mark":{"type":"rule","stroke":"black","strokeWidth":4,"strokeDash":[4,9]},"encoding":{"y":{"field":"q3","type":"quantitative"},"x":{"field":"left","type":"quantitative"},"x2":{"field":"right"}}}
  ]},
 {"transform": [{"filter":"datum.panel === 'Last assessment'"},{"bin":{"step":8},"field":"eGFR","as":"vb"},{"window":[{"op":"row_number","as":"rn"}],"groupby":["group","vb"],"sort":[{"field":"eGFR","order":"ascending"}]},{"joinaggregate":[{"op":"count","as":"cnt"}],"groupby":["group","vb"]},{"calculate":"(datum.group === 'PsA' ? 1 : 2) + (datum.rn - (datum.cnt + 1) / 2) * 0.14","as":"xpos"}],
  "mark": {"type":"circle","size":360,"opacity":0.92},
  "encoding": {"x":{"field":"xpos","type":"quantitative"},"y":{"field":"eGFR","type":"quantitative"},"color":{"field":"group","type":"nominal","scale":{"domain":["PsA","RA"],"range":["#2828ff","#ff2626"]},"legend":null}}}
]}
],
"config": {
 "view": {"stroke": null},
 "font": "Liberation Sans",
 "axis": {"domainColor":"#000000","domainWidth":7,"domainCap":"square","tickColor":"#000000","tickWidth":7,"labelColor":"#000000","labelFont":"Liberation Sans","labelFontWeight":"bold","titleColor":"#000000","titleFont":"Liberation Sans","titleFontWeight":"bold","grid":false,"labelOverlap":false,"labelFlush":false},
 "axisX": {"tickSize":34,"labelFontSize":61,"labelPadding":21},
 "axisY": {"tickSize":33,"labelFontSize":60,"labelPadding":11,"titleFontSize":67,"titlePadding":30},
 "title": {"font":"Liberation Sans","fontSize":74,"fontWeight":"bold","color":"#000000","anchor":"middle","frame":"group","offset":54,"baseline":"bottom"}
}
}
